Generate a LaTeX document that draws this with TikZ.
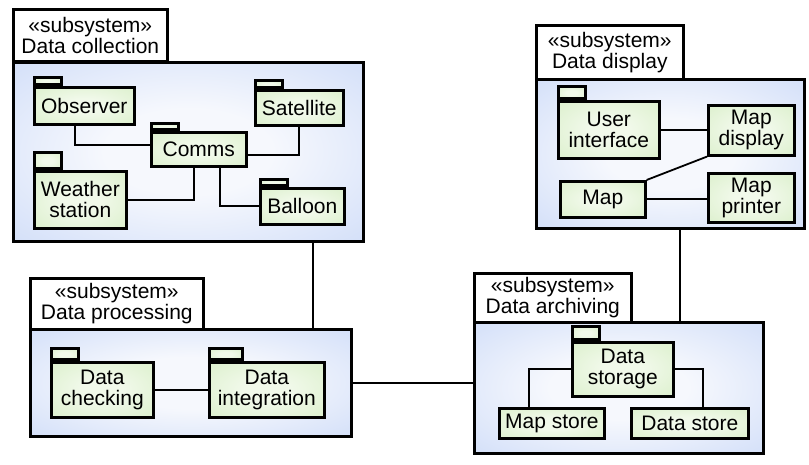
\documentclass[tikz,border=0pt]{standalone}
\usepackage{fontspec}
\setmainfont{Liberation Sans}
\usepackage{tikz}
\usetikzlibrary{positioning, calc}
\definecolor{sysblue}{HTML}{C6D6F7}
\definecolor{syslight}{HTML}{F6F8FD}
\definecolor{pkggreen}{HTML}{D5EDC3}
\definecolor{pkglight}{HTML}{F1F9EA}
\pgfdeclareradialshading{sysglow}{\pgfpoint{0bp}{0bp}}{color(0bp)=(syslight); color(12bp)=(syslight); color(45bp)=(sysblue); color(100bp)=(sysblue)}
\pgfdeclareradialshading{pkgglow}{\pgfpoint{0bp}{0bp}}{color(0bp)=(pkglight); color(10bp)=(pkglight); color(45bp)=(pkggreen); color(100bp)=(pkggreen)}
\tikzset{
  subsystems/.style={
	x=1pt, y=-1pt, % one unit is one pixel of the drawing, y grows downwards
	font=\fontsize{21}{21}\selectfont, % size of all texts
	every node/.style={inner sep=0pt, align=center, anchor=north west},
	line width=1.8pt, % the connectors
  },
  sysname/.style={draw, line width=2.6pt, fill=white}, % the box with the subsystem name
  sysbody/.style={draw, line width=2.6pt, shade, shading=sysglow}, % the body of a subsystem
  pkg/.style={draw, line width=2.6pt, shade, shading=pkgglow}, % a package inside a subsystem
  pkgtab/.style={draw, line width=2.6pt, shade, shading=pkgglow, minimum width=27pt}, % the tab on top of a package
}
\begin{document}
\begin{tikzpicture}[subsystems]
	\useasboundingbox (0,0) rectangle (809,465);

	% Data collection
	\node[sysname, minimum width=154pt, minimum height=52pt] (colname) at (12,8) {«subsystem»\\Data collection};
	\node[sysbody, minimum width=350pt, minimum height=179pt] (colbody) at (12,61) {};
	\node[pkg, minimum width=100pt, minimum height=37pt] (obs) at (33,86) {Observer};
	\node[pkg, minimum width=88pt, minimum height=35pt] (sat) at (254,89) {Satellite};
	\node[pkg, minimum width=95pt, minimum height=34pt] (comms) at (150,131) {Comms};
	\node[pkg, minimum width=92pt, minimum height=57pt] (weather) at (33,170) {Weather\\station};
	\node[pkg, minimum width=84pt, minimum height=36pt] (balloon) at (259,187) {Balloon};
	\node[pkgtab, minimum height=7pt, above right=0pt of obs.north west] (obstab) {};
	\node[pkgtab, minimum height=7pt, above right=0pt of sat.north west] (sattab) {};
	\node[pkgtab, minimum height=6pt, above right=0pt of comms.north west] (commstab) {};
	\node[pkgtab, minimum height=16pt, above right=0pt of weather.north west] (weathertab) {};
	\node[pkgtab, minimum height=6pt, above right=0pt of balloon.north west] (balloontab) {};

	% Data processing
	\node[sysname, minimum width=173pt, minimum height=51pt] (procname) at (29,277) {«subsystem»\\Data processing};
	\node[sysbody, minimum width=321pt, minimum height=107pt] (procbody) at (29,328) {};
	\node[pkg, minimum width=102pt, minimum height=55pt] (check) at (50,361) {Data\\checking};
	\node[pkg, minimum width=115pt, minimum height=55pt] (integ) at (208,361) {Data\\integration};
	\node[pkgtab, minimum height=11pt, above right=0pt of check.north west] (checktab) {};
	\node[pkgtab, minimum width=33pt, minimum height=11pt, above right=0pt of integ.north west] (integtab) {};

	% Data display
	\node[sysname, minimum width=147pt, minimum height=54pt] (dispname) at (535,24) {«subsystem»\\Data display};
	\node[sysbody, minimum width=268pt, minimum height=149pt] (dispbody) at (535,78) {};
	\node[pkg, minimum width=101pt, minimum height=57pt] (ui) at (557,100) {User\\interface};
	\node[pkg, minimum width=86pt, minimum height=50pt] (mapdisp) at (707,104) {Map\\display};
	\node[pkg, minimum width=85pt, minimum height=36pt] (map) at (559,180) {Map};
	\node[pkg, minimum width=86pt, minimum height=49pt] (mapprint) at (707,172) {Map\\printer};
	\node[pkgtab, minimum height=12pt, above right=0pt of ui.north west] (uitab) {};

	% Data archiving
	\node[sysname, minimum width=157pt, minimum height=49pt] (archname) at (473,272) {«subsystem»\\Data archiving};
	\node[sysbody, minimum width=289pt, minimum height=131pt] (archbody) at (473,321) {};
	\node[pkg, minimum width=101pt, minimum height=54pt] (storage) at (571,341) {Data\\storage};
	\node[pkg, minimum width=105pt, minimum height=30pt] (mapstore) at (498,407) {Map store};
	\node[pkg, minimum width=117pt, minimum height=30pt] (datastore) at (630,407) {Data store};
	\node[pkgtab, minimum height=13pt, above right=0pt of storage.north west] (storagetab) {};

	% links inside the subsystems
	\draw ([xshift=-9pt]obs.south) |- ([yshift=4pt]comms.west);
	\draw ([yshift=-6pt]comms.east) -| (sat.south);
	\draw ([xshift=-5pt]comms.south) |- (weather.east);
	\draw ([xshift=21pt]comms.south) |- (balloon.west);
	\draw (check.east) -- (integ.west);
	\draw (ui.east) -- (ui.east -| mapdisp.west);
	\draw (map.north east) -- (mapdisp.south west);
	\draw (map.east) -- (map.east -| mapprint.west);
	\draw (storage.west) -| ([xshift=-23pt]mapstore.north);
	\draw (storage.east) -| ([xshift=13pt]datastore.north);

	% links between the subsystems
	\draw ([xshift=125pt]colbody.south) -- ([xshift=125pt]colbody.south |- procbody.north);
	\draw (procbody.east) -- (procbody.east -| archbody.west);
	\draw ([xshift=10pt]dispbody.south) -- ([xshift=10pt]dispbody.south |- archbody.north);
\end{tikzpicture}
\end{document}
